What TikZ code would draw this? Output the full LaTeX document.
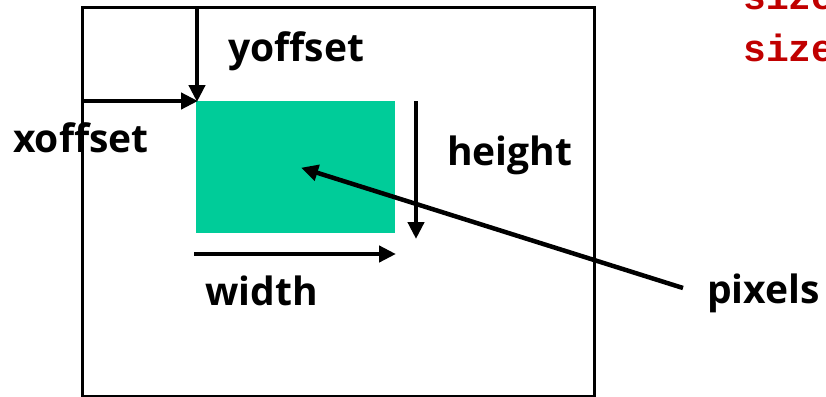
\documentclass[tikz,border=0pt]{standalone}
\usepackage{fontspec}
\setmainfont{Open Sans}
\newfontfamily\monofont{Liberation Mono}
\usetikzlibrary{arrows.meta}
\definecolor{pixgreen}{HTML}{00CC99}
\definecolor{codered}{HTML}{C00000}
\tikzset{
  lbl/.style={inner sep=0pt, anchor=base west, font=\fontsize{39}{39}\selectfont\bfseries},
  code/.style={inner sep=0pt, anchor=base west, text=codered, font=\fontsize{38}{38}\selectfont\monofont\bfseries},
  arr/.style={line width=4.5pt, -{Triangle[length=17pt,width=16pt]}, shorten >=-1pt},
}
\begin{document}
\begin{tikzpicture}[x=1pt,y=-1pt]
\useasboundingbox (0,0) rectangle (826,396);
\clip (0,0) rectangle (826,396);
% outer frame
\draw[line width=3pt] (82,396) -- (82,8) -- (594,8) -- (594,396) -- cycle;
% pixel region
\node[fill=pixgreen, inner sep=0pt, minimum width=199pt, minimum height=132pt, anchor=north west] (roi) at (196,101) {};
% coordinates
\coordinate (ytop) at (197,8);
\coordinate (xleft) at (82,101);
\coordinate (corner) at (197,101);
\coordinate (htop) at (416,101);
\coordinate (hbot) at (416,238);
\coordinate (wleft) at (194,254);
\coordinate (wright) at (395,254);
\coordinate (pxstart) at (683,288);
\coordinate (pxend) at (302,168);
% arrows
\draw[arr] (ytop) -- (corner);
\draw[arr] (xleft) -- (corner);
\draw[arr] (htop) -- (hbot);
\draw[arr] (wleft) -- (wright);
\draw[arr] (pxstart) -- (pxend);
% labels
\node[lbl] (yoff) at (228,62) {yoffset};
\node[lbl] (xoff) at (13,152) {xoffset};
\node[lbl] (hgt) at (447,165) {height};
\node[lbl] (wid) at (205,305) {width};
\node[lbl] (pix) at (707,303) {pixels};
\node[code] (s1) at (743,10) {size};
\node[code] (s2) at (743,62) {size};
\end{tikzpicture}
\end{document}
